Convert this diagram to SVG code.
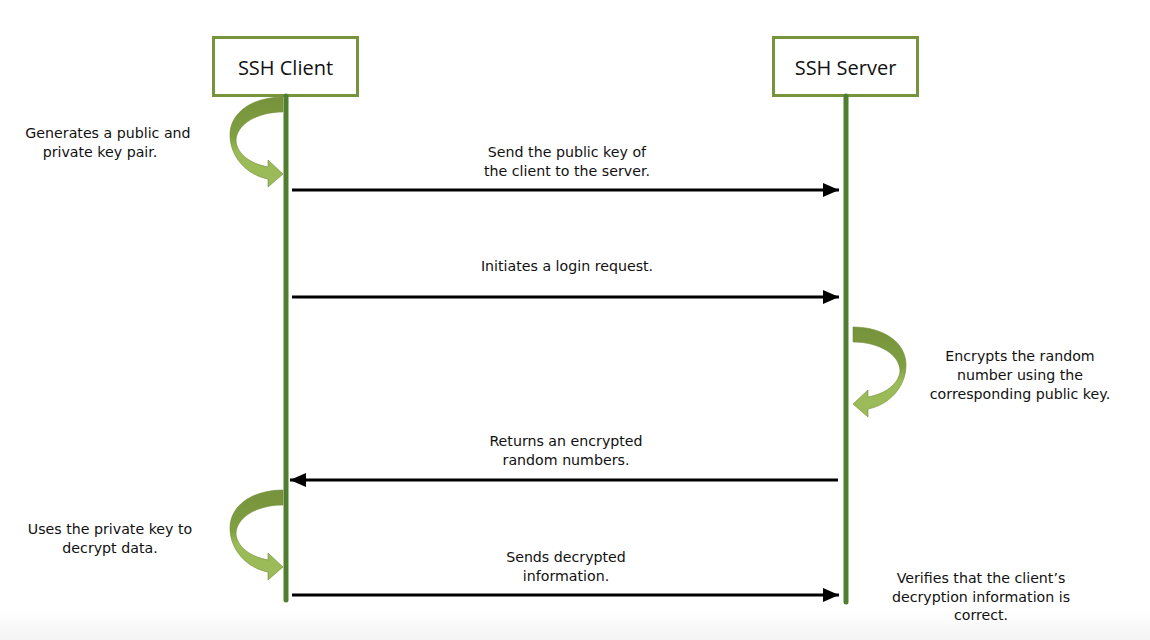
<svg xmlns="http://www.w3.org/2000/svg" width="1150" height="640" viewBox="0 0 1150 640">
<style>
.box{fill:#fff;stroke:#77933C;stroke-width:3}
.title{font-family:"Open Sans","Liberation Sans",sans-serif;font-size:20px;fill:#111;text-anchor:middle;dominant-baseline:central}
.life{stroke:#507e30;stroke-width:5;stroke-linecap:round}
.msg{stroke:#000;stroke-width:3;fill:none;marker-end:url(#ah)}
.lbl{font-family:"DejaVu Sans","Liberation Sans",sans-serif;font-size:14.2px;fill:#111;text-anchor:middle}
.curl{fill:url(#cg);stroke:#6f8a35;stroke-width:0.6}
</style>
<defs>
<marker id="ah" markerUnits="userSpaceOnUse" markerWidth="16" markerHeight="14" refX="16" refY="7" orient="auto">
<path d="M0,0 L16,7 L0,14 Z" fill="#000"/>
</marker>
<linearGradient id="cg" x1="0" y1="0" x2="0" y2="1">
<stop offset="0" stop-color="#76923C"/>
<stop offset="0.45" stop-color="#80a040"/>
<stop offset="0.6" stop-color="#9BBB59"/>
<stop offset="1" stop-color="#9BBB59"/>
</linearGradient>
<linearGradient id="bg" x1="0" y1="0" x2="0" y2="1">
<stop offset="0" stop-color="#ffffff"/>
<stop offset="1" stop-color="#f3f3f3"/>
</linearGradient>
<path id="curl" d="M0 0 C-30 0 -53 15 -53 38 C-53 60 -36 78 -15 82 L-15 90 L0 77 L-15 63 L-15 70 C-32 67 -46 57 -47 44 C-47 28 -27 15 0 15 Z"/>
</defs>
<rect x="0" y="0" width="1150" height="640" fill="#fff"/>
<rect x="0" y="612" width="1150" height="28" fill="url(#bg)"/>

<g id="curls">
<use href="#curl" class="curl" transform="translate(283,97)"/>
<use href="#curl" class="curl" transform="translate(283,490)"/>
<use href="#curl" class="curl" transform="translate(853,327) scale(-1,1)"/>
</g>

<g id="client">
<rect class="box" x="213.5" y="37.5" width="144" height="58"/>
<text class="title" x="285.5" y="67">SSH Client</text>
<line class="life" x1="286" y1="96" x2="286" y2="600"/>
</g>
<g id="server">
<rect class="box" x="773.5" y="37.5" width="144" height="58"/>
<text class="title" x="845.5" y="67">SSH Server</text>
<line class="life" x1="846" y1="96" x2="846" y2="602"/>
</g>

<g id="connectors">
<line class="msg" x1="292" y1="190" x2="839" y2="190"/>
<line class="msg" x1="292" y1="297" x2="839" y2="297"/>
<line class="msg" x1="838" y1="480" x2="290" y2="480"/>
<line class="msg" x1="292" y1="595" x2="839" y2="595"/>
</g>

<g id="labels">
<text class="lbl" x="108" y="138">Generates a public and</text>
<text class="lbl" x="100" y="157">private key pair.</text>
<text class="lbl" x="567" y="157">Send the public key of</text>
<text class="lbl" x="567" y="176">the client to the server.</text>
<text class="lbl" x="567" y="271">Initiates a login request.</text>
<text class="lbl" x="1020" y="361">Encrypts the random</text>
<text class="lbl" x="1020" y="380">number using the</text>
<text class="lbl" x="1020" y="399">corresponding public key.</text>
<text class="lbl" x="566" y="446">Returns an encrypted</text>
<text class="lbl" x="566" y="465">random numbers.</text>
<text class="lbl" x="110" y="534">Uses the private key to</text>
<text class="lbl" x="110" y="553">decrypt data.</text>
<text class="lbl" x="566" y="562">Sends decrypted</text>
<text class="lbl" x="566" y="581">information.</text>
<text class="lbl" x="981" y="583">Verifies that the client’s</text>
<text class="lbl" x="981" y="602">decryption information is</text>
<text class="lbl" x="981" y="620">correct.</text>
</g>
</svg>
